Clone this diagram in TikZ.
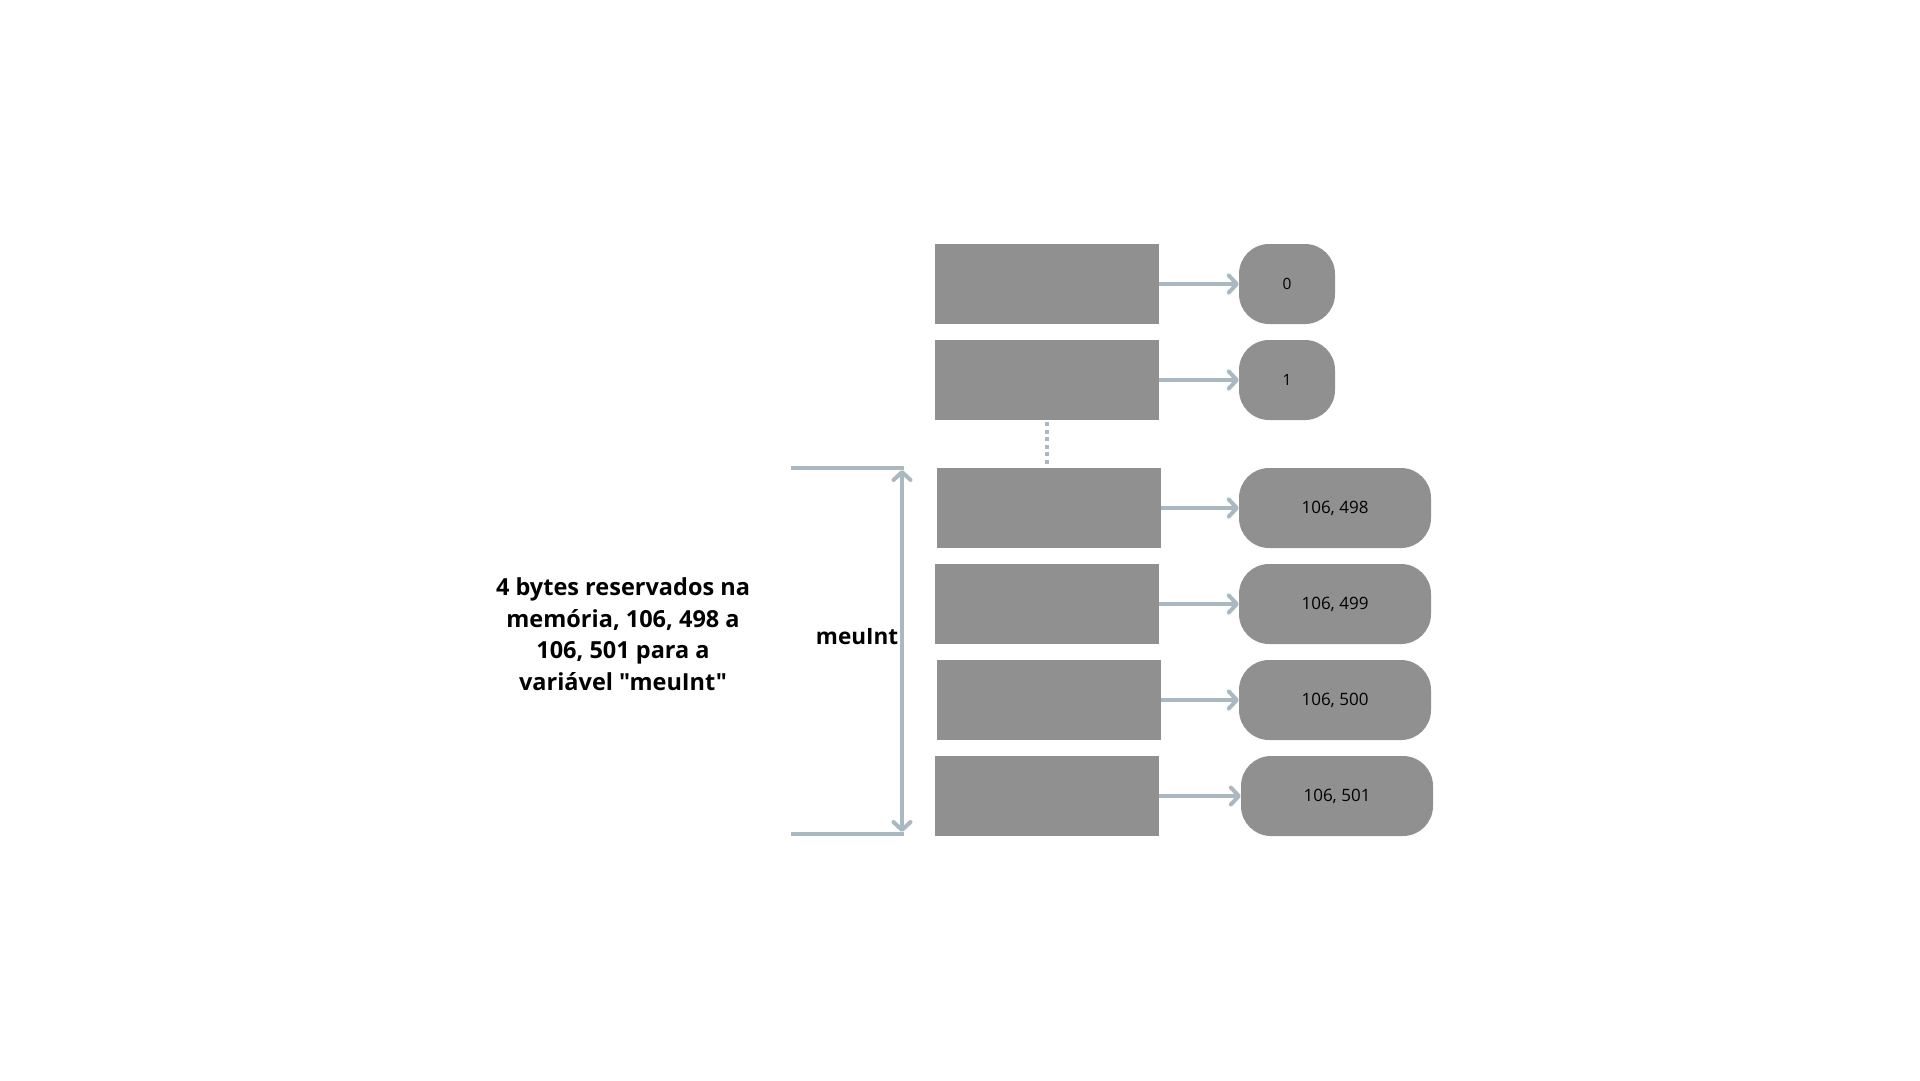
\documentclass[tikz,border=0pt]{standalone}
\usepackage{fontspec}
\setmainfont{Open Sans}[Ligatures=TeXOff]
\usetikzlibrary{arrows.meta}
\definecolor{cellgray}{RGB}{144,144,144}
\definecolor{linkblue}{RGB}{170,184,194}
\tikzset{
  cell/.style={fill=cellgray, draw=none, inner sep=0pt, minimum width=224pt, minimum height=80pt},
  val/.style={fill=cellgray, draw=none, inner sep=0pt, minimum height=80pt, rounded corners=30pt, font=\fontsize{17}{19}\selectfont, text=black},
  link/.style={draw=linkblue, line width=4pt, -{Straight Barb[length=8pt,width=17pt,line cap=round,line join=round]}},
  bracket/.style={draw=linkblue, line width=4pt},
  dim/.style={draw=linkblue, line width=4pt, {Straight Barb[length=8pt,width=17pt,line cap=round,line join=round]}-{Straight Barb[length=8pt,width=17pt,line cap=round,line join=round]}},
  label/.style={font=\bfseries\fontsize{22.5}{31.5}\selectfont, text=black, align=center, inner sep=0pt}
}
\begin{document}
\begin{tikzpicture}[x=1pt,y=-1pt]
\useasboundingbox[fill=white] (0,0) rectangle (1920,1080);
% cells
\node[cell] (r1) at (1047,284) {};
\node[cell] (r2) at (1047,380) {};
\node[cell] (r3) at (1049,508) {};
\node[cell] (r4) at (1047,604) {};
\node[cell] (r5) at (1049,700) {};
\node[cell] (r6) at (1047,796) {};
% values
\node[val, minimum width=96pt, font=\fontsize{15.5}{17}\selectfont] (v1) at (1287,284) {0};
\node[val, minimum width=96pt, font=\fontsize{15.5}{17}\selectfont] (v2) at (1287,380) {1};
\node[val, minimum width=192pt] (v3) at (1335,508) {106, 498};
\node[val, minimum width=192pt] (v4) at (1335,604) {106, 499};
\node[val, minimum width=192pt] (v5) at (1335,700) {106, 500};
\node[val, minimum width=192pt] (v6) at (1337,796) {106, 501};
% links
\draw[link] (r1.east) -- (v1.west);
\draw[link] (r2.east) -- (v2.west);
\draw[link] (r3.east) -- (v3.west);
\draw[link] (r4.east) -- (v4.west);
\draw[link] (r5.east) -- (v5.west);
\draw[link] (r6.east) -- (v6.west);
% dotted continuation
\coordinate (dtop) at (1047,422);
\coordinate (dbot) at (1047,465);
\draw[draw=linkblue, line width=4pt, dash pattern=on 4pt off 3.6pt] (dtop) -- (dbot);
% bracket
\coordinate (tl) at (791,468);
\coordinate (tr) at (904,468);
\coordinate (bl) at (791,834);
\coordinate (br) at (904,834);
\coordinate (at) at (902,470);
\coordinate (ab) at (902,832);
\draw[bracket] (tl) -- (tr);
\draw[bracket] (bl) -- (br);
\draw[dim] (at) -- (ab);
% labels
\node[label] (name) at (857,637) {meuInt};
\node[label, font=\bfseries\fontsize{23.5}{31.5}\selectfont] (desc) at (623,634) {4 bytes reservados na\\memória, 106, 498 a\\106, 501 para a\\variável "meuInt"};
\end{tikzpicture}
\end{document}
